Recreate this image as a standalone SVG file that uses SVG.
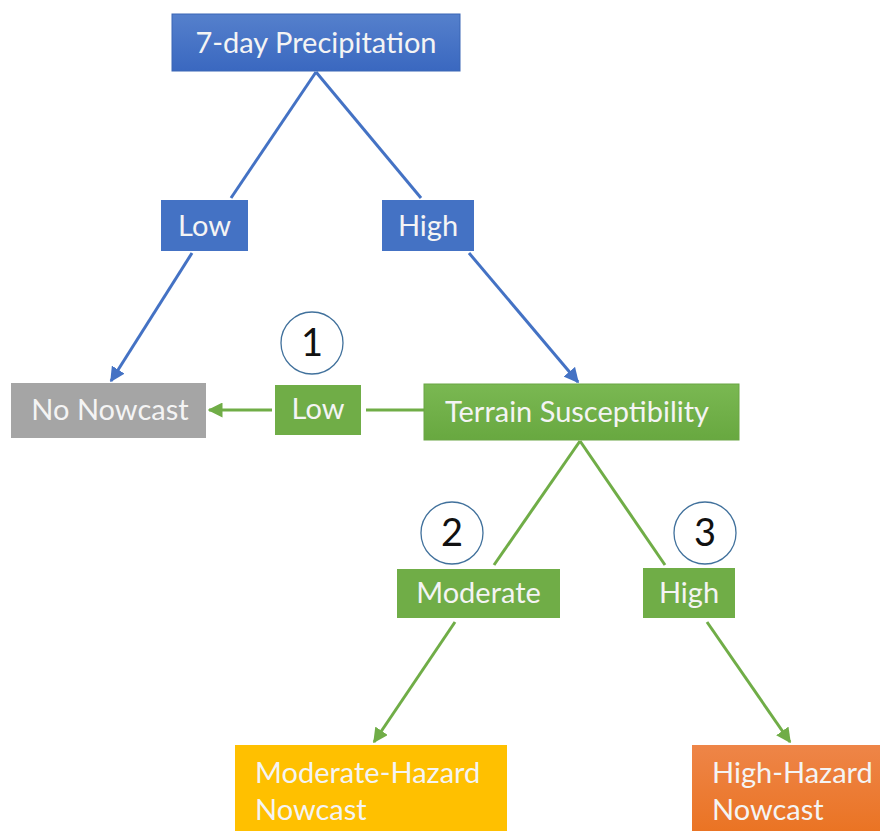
<svg xmlns="http://www.w3.org/2000/svg" width="880" height="831" viewBox="0 0 880 831">
<defs>
<linearGradient id="gBlue" x1="0" y1="0" x2="0" y2="1"><stop offset="0" stop-color="#5580CC"/><stop offset="1" stop-color="#3A68C0"/></linearGradient>
<linearGradient id="gGreen" x1="0" y1="0" x2="0" y2="1"><stop offset="0" stop-color="#7AB852"/><stop offset="1" stop-color="#68A840"/></linearGradient>
<linearGradient id="gOrange" x1="0" y1="0" x2="0" y2="1"><stop offset="0" stop-color="#EE8548"/><stop offset="1" stop-color="#EA7322"/></linearGradient>
<marker id="aBlue" viewBox="0 0 10 10" refX="9" refY="5" markerWidth="5" markerHeight="5" orient="auto" markerUnits="strokeWidth"><path d="M0,0 L10,5 L0,10 z" fill="#4472C4"/></marker>
<marker id="aGreen" viewBox="0 0 10 10" refX="9" refY="5" markerWidth="5" markerHeight="5" orient="auto" markerUnits="strokeWidth"><path d="M0,0 L10,5 L0,10 z" fill="#70AD47"/></marker>
<style>
.t{font-family:Lato,"Open Sans","Liberation Sans",sans-serif;font-size:29px;fill:#F4F4F4}
.n{font-family:Lato,"Open Sans","Liberation Sans",sans-serif;font-size:38px;fill:#111}
.cb{stroke:#4472C4;stroke-width:3;fill:none}
.cg{stroke:#70AD47;stroke-width:3;fill:none}
.circ{fill:#fff;stroke:#41719C;stroke-width:1.3}
</style>
</defs>
<g id="connectors">
<line class="cb" x1="316" y1="72" x2="231" y2="198"/>
<line class="cb" x1="316" y1="72" x2="421" y2="198"/>
<line class="cb" x1="192" y1="253" x2="111" y2="381" marker-end="url(#aBlue)"/>
<line class="cb" x1="469" y1="253" x2="578" y2="382" marker-end="url(#aBlue)"/>
<line class="cg" x1="424" y1="410" x2="366" y2="410"/>
<line class="cg" x1="272" y1="410" x2="209" y2="410" marker-end="url(#aGreen)"/>
<line class="cg" x1="580" y1="441" x2="494" y2="565"/>
<line class="cg" x1="580" y1="441" x2="665" y2="565"/>
<line class="cg" x1="455" y1="622" x2="374" y2="742" marker-end="url(#aGreen)"/>
<line class="cg" x1="707" y1="622" x2="790" y2="742" marker-end="url(#aGreen)"/>
</g>
<g id="precip"><rect x="172" y="14" width="288" height="57" fill="url(#gBlue)" stroke="#3A66B5" stroke-width="1"/><text class="t" x="316" y="53" text-anchor="middle">7-day Precipitation</text></g>
<g id="lowBlue"><rect x="161" y="200" width="87" height="51" fill="#4472C4"/><text class="t" x="204.5" y="236" text-anchor="middle">Low</text></g>
<g id="highBlue"><rect x="382" y="200" width="92" height="51" fill="#4472C4"/><text class="t" x="428" y="236" text-anchor="middle">High</text></g>
<g id="noNowcast"><rect x="11" y="383" width="195" height="55" fill="#A5A5A5"/><text class="t" x="110" y="420" text-anchor="middle">No Nowcast</text></g>
<g id="lowGreen"><rect x="275" y="385" width="86" height="50" fill="#70AD47"/><text class="t" x="318" y="419" text-anchor="middle">Low</text></g>
<g id="terrain"><rect x="424" y="384" width="315" height="56" fill="url(#gGreen)" stroke="#6AA645" stroke-width="1"/><text class="t" x="577" y="422" text-anchor="middle">Terrain Susceptibility</text></g>
<g id="c1"><circle class="circ" cx="312" cy="343" r="31"/><text class="n" x="312" y="356" text-anchor="middle">1</text></g>
<g id="c2"><circle class="circ" cx="452" cy="533" r="31"/><text class="n" x="452" y="546" text-anchor="middle">2</text></g>
<g id="c3"><circle class="circ" cx="705" cy="533" r="31"/><text class="n" x="705" y="546" text-anchor="middle">3</text></g>
<g id="moderate"><rect x="397" y="569" width="163" height="49" fill="#70AD47"/><text class="t" x="478.5" y="603" text-anchor="middle">Moderate</text></g>
<g id="highGreen"><rect x="643" y="568" width="92" height="50" fill="#70AD47"/><text class="t" x="689" y="603" text-anchor="middle">High</text></g>
<g id="modHazard"><rect x="235" y="745" width="272" height="90" fill="#FFC000"/><text class="t" x="255" y="783">Moderate-Hazard</text><text class="t" x="255" y="820">Nowcast</text></g>
<g id="highHazard"><rect x="692" y="745" width="192" height="90" fill="url(#gOrange)"/><text class="t" x="712" y="783">High-Hazard</text><text class="t" x="712" y="820">Nowcast</text></g>
</svg>
